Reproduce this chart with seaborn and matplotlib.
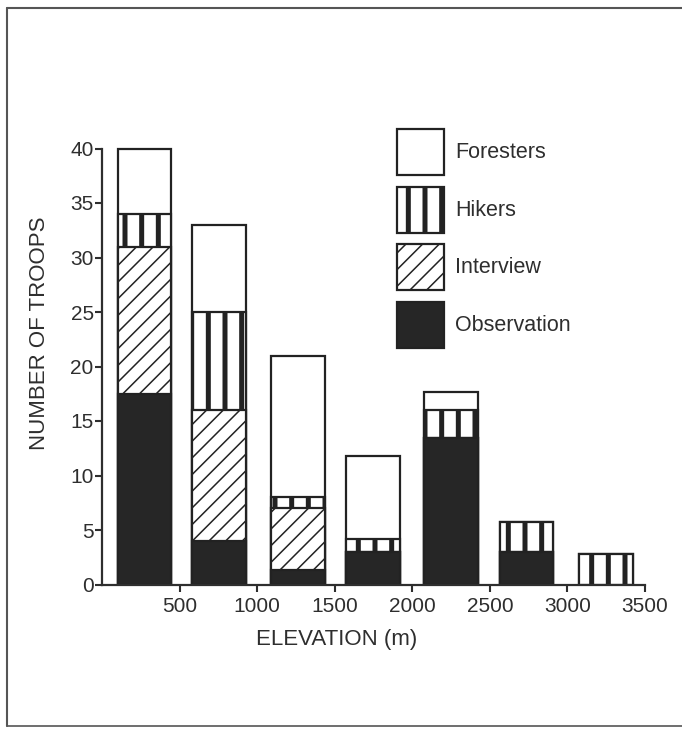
import numpy as np
import pandas as pd
import matplotlib
matplotlib.use("Agg")
import matplotlib.pyplot as plt
from matplotlib.patches import Patch
from matplotlib.lines import Line2D
import seaborn as sns

# ---- data ----
elevation = [275, 755, 1265, 1745, 2250, 2735, 3250]      # bar centres (m)
observation = [17.5, 4.0, 1.3, 3.0, 13.4, 3.0, 0.0]
interview = [13.5, 12.0, 5.7, 0.0, 0.0, 0.0, 0.0]
hikers = [3.0, 9.0, 1.0, 1.2, 2.6, 2.7, 2.8]
foresters = [6.0, 8.0, 13.0, 7.6, 1.7, 0.0, 0.0]
series_names = ["Foresters", "Hikers", "Interview", "Observation"]
xtick_vals = [500, 1000, 1500, 2000, 2500, 3000, 3500]
ytick_vals = [0, 5, 10, 15, 20, 25, 30, 35, 40]

sns.set_theme(style="white")
plt.rcParams["font.family"] = ["Liberation Sans", "DejaVu Sans"]
TXT = "#2e2e2e"
EDGE = "#222222"
DARK = "#262626"

W, H = 682, 729
fig = plt.figure(figsize=(W / 100, H / 100), dpi=100)
x0_px, x1_px = 102, 645
y0_px, ypu = 584.5, 10.9
ytop = 40.6
ax = fig.add_axes([x0_px / W, (H - y0_px) / H, (x1_px - x0_px) / W, ytop * ypu / H])

# stacked layers drawn as cumulative overlays (top layer first)
obs = np.array(observation)
cum_int = obs + np.array(interview)
cum_hik = cum_int + np.array(hikers)
cum_for = cum_hik + np.array(foresters)

HATCH = {"Foresters": "", "Hikers": "|", "Interview": "//", "Observation": ""}
FACE = {"Foresters": "white", "Hikers": "white", "Interview": "white", "Observation": DARK}
HLW = {"Foresters": 1.0, "Hikers": 3.6, "Interview": 1.1, "Observation": 1.0}

layers = [("Foresters", cum_for), ("Hikers", cum_hik),
          ("Interview", cum_int), ("Observation", obs)]

def set_hlw(p, lw):
    if hasattr(p, "set_hatch_linewidth"):
        try:
            p.set_hatch_linewidth(lw)
        except Exception:
            pass

for name, heights in layers:
    df = pd.DataFrame({"elev": elevation, "count": heights})
    df = df[df["count"] > 0]
    n_before = len(ax.patches)
    with plt.rc_context({"hatch.linewidth": HLW[name], "hatch.color": EDGE}):
        sns.barplot(data=df, x="elev", y="count", native_scale=True,
                    width=0.72, color=FACE[name], saturation=1, errorbar=None,
                    edgecolor=EDGE, linewidth=1.6,
                    hatch=HATCH[name] if HATCH[name] else None, ax=ax)
    for p in ax.patches[n_before:]:
        set_hlw(p, HLW[name])
        p.set_facecolor(FACE[name])
        p.set_edgecolor(EDGE)

ax.set_xlim(0, 3500)
ax.set_ylim(0, ytop)
ax.set_xticks(xtick_vals)
ax.set_xticklabels([str(v) for v in xtick_vals])
ax.set_yticks(ytick_vals)
ax.set_yticklabels([str(v) for v in ytick_vals])

for s in ["top", "right"]:
    ax.spines[s].set_visible(False)
ax.spines["left"].set_bounds(0, 40)
ax.spines["bottom"].set_bounds(0, 3500)
for s in ["left", "bottom"]:
    ax.spines[s].set_color(TXT)
    ax.spines[s].set_linewidth(1.6)

ax.tick_params(axis="both", direction="out", length=5, width=1.5, color=TXT,
               labelsize=15, labelcolor=TXT)
ax.tick_params(axis="y", pad=1, left=True)
ax.tick_params(axis="x", pad=4, bottom=True)

ax.set_xlabel("ELEVATION (m)", fontsize=16, color=TXT)
ax.set_ylabel("NUMBER OF TROOPS", fontsize=16, color=TXT)
ax.xaxis.set_label_coords(337 / W, 1 - 640 / H, transform=fig.transFigure)
ax.yaxis.set_label_coords(40 / W, 1 - 333 / H, transform=fig.transFigure)
ax.xaxis.label.set_va("center")
ax.yaxis.label.set_va("center")

# legend
handles = []
for nm in series_names:
    with plt.rc_context({"hatch.linewidth": HLW[nm], "hatch.color": EDGE}):
        h = Patch(facecolor=FACE[nm], edgecolor=EDGE,
                  hatch=HATCH[nm] if HATCH[nm] else None,
                  linewidth=1.6, label=nm)
    set_hlw(h, HLW[nm])
    handles.append(h)
fs = 15.5
fpx = fs * 100 / 72
box = 46.0
hh = (box / fpx - 0.245) / 0.65
leg = ax.legend(handles=handles, loc="upper left",
                bbox_to_anchor=(397 / W, 1 - 129 / H), bbox_transform=fig.transFigure,
                frameon=False, fontsize=fs, handlelength=47 / fpx,
                handleheight=hh, labelspacing=11.5 / fpx,
                handletextpad=11 / fpx, borderpad=0, borderaxespad=0)
for t in leg.get_texts():
    t.set_color(TXT)
for nm, p in zip(series_names, leg.get_patches()):
    set_hlw(p, HLW[nm])

# scanned page frame
fig.add_artist(Line2D([7 / W, 7 / W], [1 - 8 / H, 1 - 726 / H], color="#555555", lw=1.5,
                      transform=fig.transFigure))
fig.add_artist(Line2D([7 / W, 1.0], [1 - 8 / H, 1 - 8 / H], color="#555555", lw=1.5,
                      transform=fig.transFigure))
fig.add_artist(Line2D([7 / W, 1.0], [1 - 726 / H, 1 - 726 / H], color="#555555", lw=1.2,
                      transform=fig.transFigure))

fig.savefig("out.png", dpi=100)
